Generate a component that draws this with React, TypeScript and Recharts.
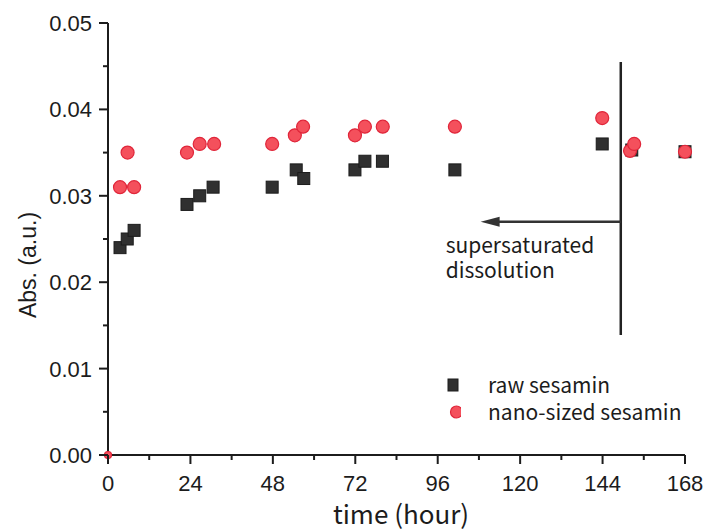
import React from 'react'
import { ScatterChart, Scatter, XAxis, YAxis, ReferenceLine } from 'recharts'

// time (hour) vs absorbance
const RAW_HOURS = [3.5, 5.6, 7.6, 23, 26.7, 30.6, 47.8, 54.8, 57, 71.9, 74.8, 79.9, 101, 143.9, 152.5, 168]
const RAW_ABS = [0.024, 0.025, 0.026, 0.029, 0.030, 0.031, 0.031, 0.033, 0.032, 0.033, 0.034, 0.034, 0.033, 0.036, 0.0353, 0.0351]

const NANO_HOURS = [0, 3.5, 5.7, 7.6, 23, 26.7, 30.9, 47.8, 54.4, 56.8, 71.9, 74.8, 80, 101, 143.9, 152, 153.2, 168]
const NANO_ABS = [0, 0.031, 0.035, 0.031, 0.035, 0.036, 0.036, 0.036, 0.037, 0.038, 0.037, 0.038, 0.038, 0.038, 0.039, 0.0352, 0.036, 0.0351]

const X_TICKS = [0, 12, 24, 36, 48, 60, 72, 84, 96, 108, 120, 132, 144, 156, 168]
const Y_TICKS = [0, 0.005, 0.01, 0.015, 0.02, 0.025, 0.03, 0.035, 0.04, 0.045, 0.05]

// annotation: vertical divider and arrow pointing back in time
const DIVIDER_HOUR = 149.3
const DIVIDER_RANGE = [0.0139, 0.0455]
const ARROW_TIP_HOUR = 108.5
const ARROW_ABS = 0.027

const rawData = RAW_HOURS.map((x, i) => ({ x, y: RAW_ABS[i] }))
const nanoData = NANO_HOURS.map((x, i) => ({ x, y: NANO_ABS[i] }))

const INK = '#1c1c1c'
const SANS = "'Liberation Sans', Arial, sans-serif"
const GOTHIC = "'Noto Sans CJK JP', 'Noto Sans', sans-serif"
const RED = '#f4505c'
const RED_EDGE = '#e0263a'
const BLACK = '#303030'

const Square = (p: any) => (
  <rect x={p.cx - 6} y={p.cy - 6} width={12} height={12} fill={BLACK} stroke={INK} strokeWidth={1} />
)

const Dot = (p: any) => {
  const r = p.payload && p.payload.y === 0 ? 3.5 : 6.5
  return <circle cx={p.cx} cy={p.cy} r={r} fill={RED} stroke={RED_EDGE} strokeWidth={1.2} />
}

const XTick = (p: any) => {
  const v = p.payload.value
  const major = v % 24 === 0
  return (
    <g>
      <line x1={p.x} x2={p.x} y1={p.y} y2={p.y + (major ? 9 : 5)} stroke={INK} strokeWidth={2} />
      {major && (
        <text x={p.x} y={p.y + 36} textAnchor="middle" fontSize={22} fontFamily={SANS} fill={INK}>
          {v}
        </text>
      )}
    </g>
  )
}

const YTick = (p: any) => {
  const v = p.payload.value
  const major = Math.round(v * 1000) % 10 === 0
  return (
    <g>
      <line x1={p.x} x2={p.x - (major ? 9 : 5)} y1={p.y} y2={p.y} stroke={INK} strokeWidth={2} />
      {major && (
        <text x={p.x - 16} y={p.y + 8} textAnchor="end" fontSize={22} fontFamily={SANS} fill={INK}>
          {v.toFixed(2)}
        </text>
      )}
    </g>
  )
}

const Arrow = (p: any) => {
  const tip = Math.min(p.x1, p.x2)
  const tail = Math.max(p.x1, p.x2)
  const y = p.y1
  return (
    <g>
      <line x1={tail} x2={tip + 14} y1={y} y2={y} stroke="#333" strokeWidth={2.5} />
      <polygon points={`${tip},${y} ${tip + 19},${y - 5} ${tip + 19},${y + 5}`} fill="#333" />
      <text x={tip - 35} y={y + 31} fontSize={21} fontFamily={GOTHIC} fill={INK}>supersaturated</text>
      <text x={tip - 35} y={y + 56} fontSize={21} fontFamily={GOTHIC} fill={INK}>dissolution</text>
    </g>
  )
}

function AxisTitles() {
  return (
    <svg width={704} height={532} style={{ position: 'absolute', left: 0, top: 0, pointerEvents: 'none' }}>
      <text x={28} y={265} transform="rotate(-90, 28, 265)" textAnchor="middle" dominantBaseline="central"
        fontSize={23} fontFamily={SANS} fill={INK}>
        Abs. (a.u.)
      </text>
      <text x={401} y={524} textAnchor="middle" fontSize={26} fontFamily={GOTHIC} fill={INK}>
        time (hour)
      </text>
    </svg>
  )
}

function LegendBox() {
  const row: React.CSSProperties = { display: 'flex', alignItems: 'center', height: 27 }
  const text: React.CSSProperties = { fontFamily: GOTHIC, fontSize: 21, lineHeight: '27px', color: INK, marginLeft: 27, whiteSpace: 'nowrap' }
  return (
    <div style={{ position: 'absolute', left: 445, top: 371 }}>
      <div style={row}>
        <svg width={16} height={16}>
          <rect x={3} y={2} width={10} height={12} fill={BLACK} stroke={INK} strokeWidth={1} />
        </svg>
        <span style={text}>raw sesamin</span>
      </div>
      <div style={row}>
        <svg width={16} height={16}>
          <circle cx={11.5} cy={8} r={6} fill={RED} stroke={RED_EDGE} strokeWidth={1.2} />
        </svg>
        <span style={text}>nano-sized sesamin</span>
      </div>
    </div>
  )
}

export default function App() {
  return (
    <div style={{ position: 'absolute', left: 0, top: 0, width: 704, height: 532, background: '#fff' }}>
      <ScatterChart width={704} height={532} margin={{ top: 23, right: 19, bottom: 0, left: 0 }}>
        <XAxis
          type="number"
          dataKey="x"
          domain={[0, 168]}
          ticks={X_TICKS}
          interval={0}
          height={77}
          tickSize={0}
          tickMargin={0}
          tickLine={false}
          axisLine={{ stroke: INK, strokeWidth: 2 }}
          tick={XTick}
        />
        <YAxis
          type="number"
          dataKey="y"
          domain={[0, 0.05]}
          ticks={Y_TICKS}
          interval={0}
          width={108}
          tickSize={0}
          tickMargin={0}
          tickLine={false}
          axisLine={{ stroke: INK, strokeWidth: 2 }}
          tick={YTick}
        />
        <ReferenceLine
          segment={[{ x: DIVIDER_HOUR, y: DIVIDER_RANGE[0] }, { x: DIVIDER_HOUR, y: DIVIDER_RANGE[1] }]}
          stroke="#222"
          strokeWidth={2.5}
        />
        <ReferenceLine
          segment={[{ x: DIVIDER_HOUR, y: ARROW_ABS }, { x: ARROW_TIP_HOUR, y: ARROW_ABS }]}
          shape={Arrow}
        />
        <Scatter name="raw sesamin" data={rawData} shape={Square} isAnimationActive={false} />
        <Scatter name="nano-sized sesamin" data={nanoData} shape={Dot} isAnimationActive={false} />
      </ScatterChart>
      <AxisTitles />
      <LegendBox />
    </div>
  )
}
